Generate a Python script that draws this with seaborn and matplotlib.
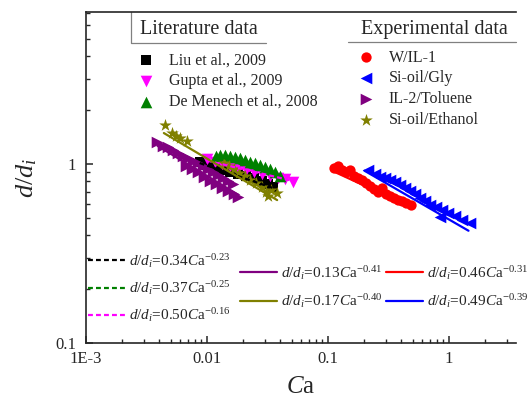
import matplotlib
matplotlib.use("Agg")
import numpy as np
import pandas as pd
import matplotlib.pyplot as plt
import seaborn as sns

# Literature data
liu_ca = [0.00875, 0.00981, 0.0110, 0.0123, 0.0138, 0.0155, 0.0180, 0.0210, 0.0244, 0.0285, 0.0319, 0.0351]
liu_d = [1.026, 0.987, 0.962, 0.950, 0.926, 0.902, 0.879, 0.857, 0.835, 0.804, 0.773, 0.744]

gupta_ca = [0.0100, 0.0116, 0.0133, 0.0155, 0.0180, 0.0210, 0.0244, 0.0285, 0.0332, 0.0386, 0.0441, 0.0514]
gupta_d = [1.066, 1.026, 1.000, 0.975, 0.950, 0.926, 0.902, 0.879, 0.857, 0.835, 0.824, 0.793]

demenech_ca = [0.0119, 0.0128, 0.0141, 0.0155, 0.0170, 0.0187, 0.0206, 0.0227, 0.0249, 0.0274, 0.0301, 0.0332, 0.0365, 0.0401]
demenech_d = [1.108, 1.122, 1.122, 1.108, 1.094, 1.080, 1.053, 1.026, 1.013, 0.987, 0.962, 0.938, 0.902, 0.857]

# Experimental data
wil_ca = [0.112, 0.121, 0.131, 0.141, 0.152, 0.164, 0.177, 0.191, 0.206, 0.222,
          0.240, 0.259, 0.279, 0.301, 0.325, 0.351, 0.379, 0.409, 0.441, 0.485]
wil_d = [0.950, 0.975, 0.926, 0.902, 0.926, 0.857, 0.835, 0.814, 0.783, 0.754,
         0.725, 0.698, 0.734, 0.680, 0.663, 0.646, 0.630, 0.621, 0.605, 0.590]

gly_ca = [0.214, 0.245, 0.269, 0.296, 0.325, 0.358, 0.394, 0.433, 0.476, 0.524,
          0.576, 0.634, 0.697, 0.781, 0.875, 0.982, 1.12, 1.28, 1.49, 0.843]
gly_d = [0.926, 0.879, 0.846, 0.835, 0.814, 0.793, 0.763, 0.734, 0.707, 0.680,
         0.646, 0.621, 0.590, 0.575, 0.553, 0.532, 0.512, 0.487, 0.468, 0.506]

tol_ca = [0.00386, 0.00433, 0.00476, 0.00524, 0.00576, 0.00633, 0.00697, 0.00766, 0.00843,
          0.00927, 0.0102, 0.0112, 0.0123, 0.0136, 0.0149, 0.0164, 0.00670, 0.00752,
          0.00843, 0.00944, 0.0106, 0.0119, 0.0133, 0.0149, 0.0167, 0.0180]
tol_d = [1.33, 1.26, 1.245, 1.20, 1.152, 1.108, 1.080, 1.04, 1.013,
         0.975, 0.938, 0.902, 0.868, 0.835, 0.804, 0.773, 0.975, 0.938,
         0.902, 0.846, 0.804, 0.773, 0.734, 0.707, 0.680, 0.654]

eth_ca = [0.00450, 0.00514, 0.00554, 0.00598, 0.00684, 0.0138, 0.0152, 0.0167, 0.0184,
          0.0206, 0.0227, 0.0254, 0.0285, 0.0307, 0.0338, 0.0379, 0.0319]
eth_d = [1.65, 1.49, 1.43, 1.40, 1.34, 1.013, 0.975, 0.938, 0.891,
         0.857, 0.814, 0.783, 0.744, 0.698, 0.716, 0.689, 0.663]

# Power-law fits d/di = a * Ca^b, with the Ca span each line covers
fit_a = [0.34, 0.37, 0.50, 0.13, 0.17, 0.46, 0.49]
fit_b = [-0.23, -0.25, -0.16, -0.41, -0.40, -0.31, -0.39]
fit_lo = [0.0087, 0.0119, 0.0100, 0.0039, 0.0044, 0.110, 0.200]
fit_hi = [0.0350, 0.0400, 0.0514, 0.0180, 0.0380, 0.490, 1.450]

sns.set_style("ticks")
plt.rcParams["font.family"] = ["Liberation Serif", "DejaVu Serif"]
plt.rcParams["mathtext.fontset"] = "custom"
plt.rcParams["mathtext.rm"] = "Liberation Serif"
plt.rcParams["mathtext.it"] = "Liberation Serif:italic"
plt.rcParams["xtick.direction"] = "in"
plt.rcParams["ytick.direction"] = "in"

fig = plt.figure(figsize=(5.29, 4.03), dpi=100)
ax = fig.add_axes([86 / 529, 1 - 343 / 403, 430 / 529, 331 / 403])

# Fit lines first, markers on top
fit_colors = ["black", "#008000", "#ff00ff", "#800080", "#808000", "#ff0000", "#0000ff"]
fit_dashed = [True, True, True, False, False, False, False]
fit_handles = []
for a, b, lo, hi, c, dashed in zip(fit_a, fit_b, fit_lo, fit_hi, fit_colors, fit_dashed):
    x = np.array([lo, hi])
    sns.lineplot(x=x, y=a * x ** b, color=c, lw=1.6, ax=ax, legend=False)
    line = ax.lines[-1]
    if dashed:
        line.set_dashes((2.2, 1.4))
    label = r"$d/d_i$=%.2f$C\mathrm{a}^{%s}$" % (a, "-%.2f" % abs(b))
    fit_handles.append((line, label))

series = [
    ("Liu et al., 2009", liu_ca, liu_d, "black", "s", 45),
    ("Gupta et al., 2009", gupta_ca, gupta_d, "#ff00ff", "v", 70),
    ("De Menech et al., 2008", demenech_ca, demenech_d, "#008000", "^", 70),
    ("W/IL-1", wil_ca, wil_d, "#ff0000", "o", 55),
    ("Si-oil/Gly", gly_ca, gly_d, "#0000ff", "<", 70),
    ("IL-2/Toluene", tol_ca, tol_d, "#800080", ">", 70),
    ("Si-oil/Ethanol", eth_ca, eth_d, "#808000", "*", 90),
]
scat_handles = []
for name, xs, ys, c, m, s in series:
    sns.scatterplot(x=xs, y=ys, color=c, marker=m, s=s, linewidth=0, ax=ax, legend=False)
    scat_handles.append((ax.collections[-1], name))

ax.set_xscale("log")
ax.set_yscale("log")
ax.set_xlim(1e-3, 3.58)
ax.set_ylim(0.1, 7.07)
ax.set_xticks([1e-3, 1e-2, 0.1, 1])
ax.set_xticklabels(["1E-3", "0.01", "0.1", "1"])
ax.set_yticks([0.1, 1])
ax.set_yticklabels(["0.1", "1"])
ax.tick_params(which="major", length=5, width=1.1, labelsize=12)
ax.tick_params(axis="x", which="major", pad=6)
ax.tick_params(axis="y", which="major", pad=7)
ax.tick_params(which="minor", length=3, width=1.0)
for side in ["left", "bottom", "top"]:
    ax.spines[side].set_linewidth(1.2)
ax.spines["right"].set_visible(False)
ax.set_xlabel(r"$C$a", fontsize=18, labelpad=6)
ax.set_ylabel(r"$d/d_i$", fontsize=19, labelpad=12)

# Legend headers with their partial frames
ax.text(0.263, 0.946, "Literature data", transform=ax.transAxes, ha="center", va="center", fontsize=14.5)
ax.plot([0.1047, 0.1047, 0.4186], [1.0, 0.906, 0.906], transform=ax.transAxes, color="#808080", lw=0.9, clip_on=False)
ax.text(0.81, 0.948, "Experimental data", transform=ax.transAxes, ha="center", va="center", fontsize=14.5)
ax.plot([0.609, 1.0], [0.909, 0.909], transform=ax.transAxes, color="#808080", lw=0.9, clip_on=False)

common = dict(frameon=False, borderpad=0, borderaxespad=0, scatterpoints=1, loc="center left")
leg1 = ax.legend([h for h, _ in scat_handles[:3]], [l for _, l in scat_handles[:3]],
                 bbox_to_anchor=(0.123, 0.7915), fontsize=11.5, handlelength=0.9,
                 handletextpad=1.0, labelspacing=0.3, **common)
ax.add_artist(leg1)
leg2 = ax.legend([h for h, _ in scat_handles[3:]], [l for _, l in scat_handles[3:]],
                 bbox_to_anchor=(0.635, 0.768), fontsize=11.5, handlelength=0.9,
                 handletextpad=0.95, labelspacing=0.3, **common)
ax.add_artist(leg2)

fit_kw = dict(fontsize=11, handlelength=2.4, handletextpad=0.3, **common)
leg3 = ax.legend([h for h, _ in fit_handles[:3]], [l for _, l in fit_handles[:3]],
                 bbox_to_anchor=(0.005, 0.166), labelspacing=0.6, **fit_kw)
ax.add_artist(leg3)
leg4 = ax.legend([h for h, _ in fit_handles[3:5]], [l for _, l in fit_handles[3:5]],
                 bbox_to_anchor=(0.358, 0.169), labelspacing=0.7, **fit_kw)
ax.add_artist(leg4)
ax.legend([h for h, _ in fit_handles[5:]], [l for _, l in fit_handles[5:]],
          bbox_to_anchor=(0.698, 0.169), labelspacing=0.7, **fit_kw)

fig.savefig("out.png", dpi=100, facecolor="white")
